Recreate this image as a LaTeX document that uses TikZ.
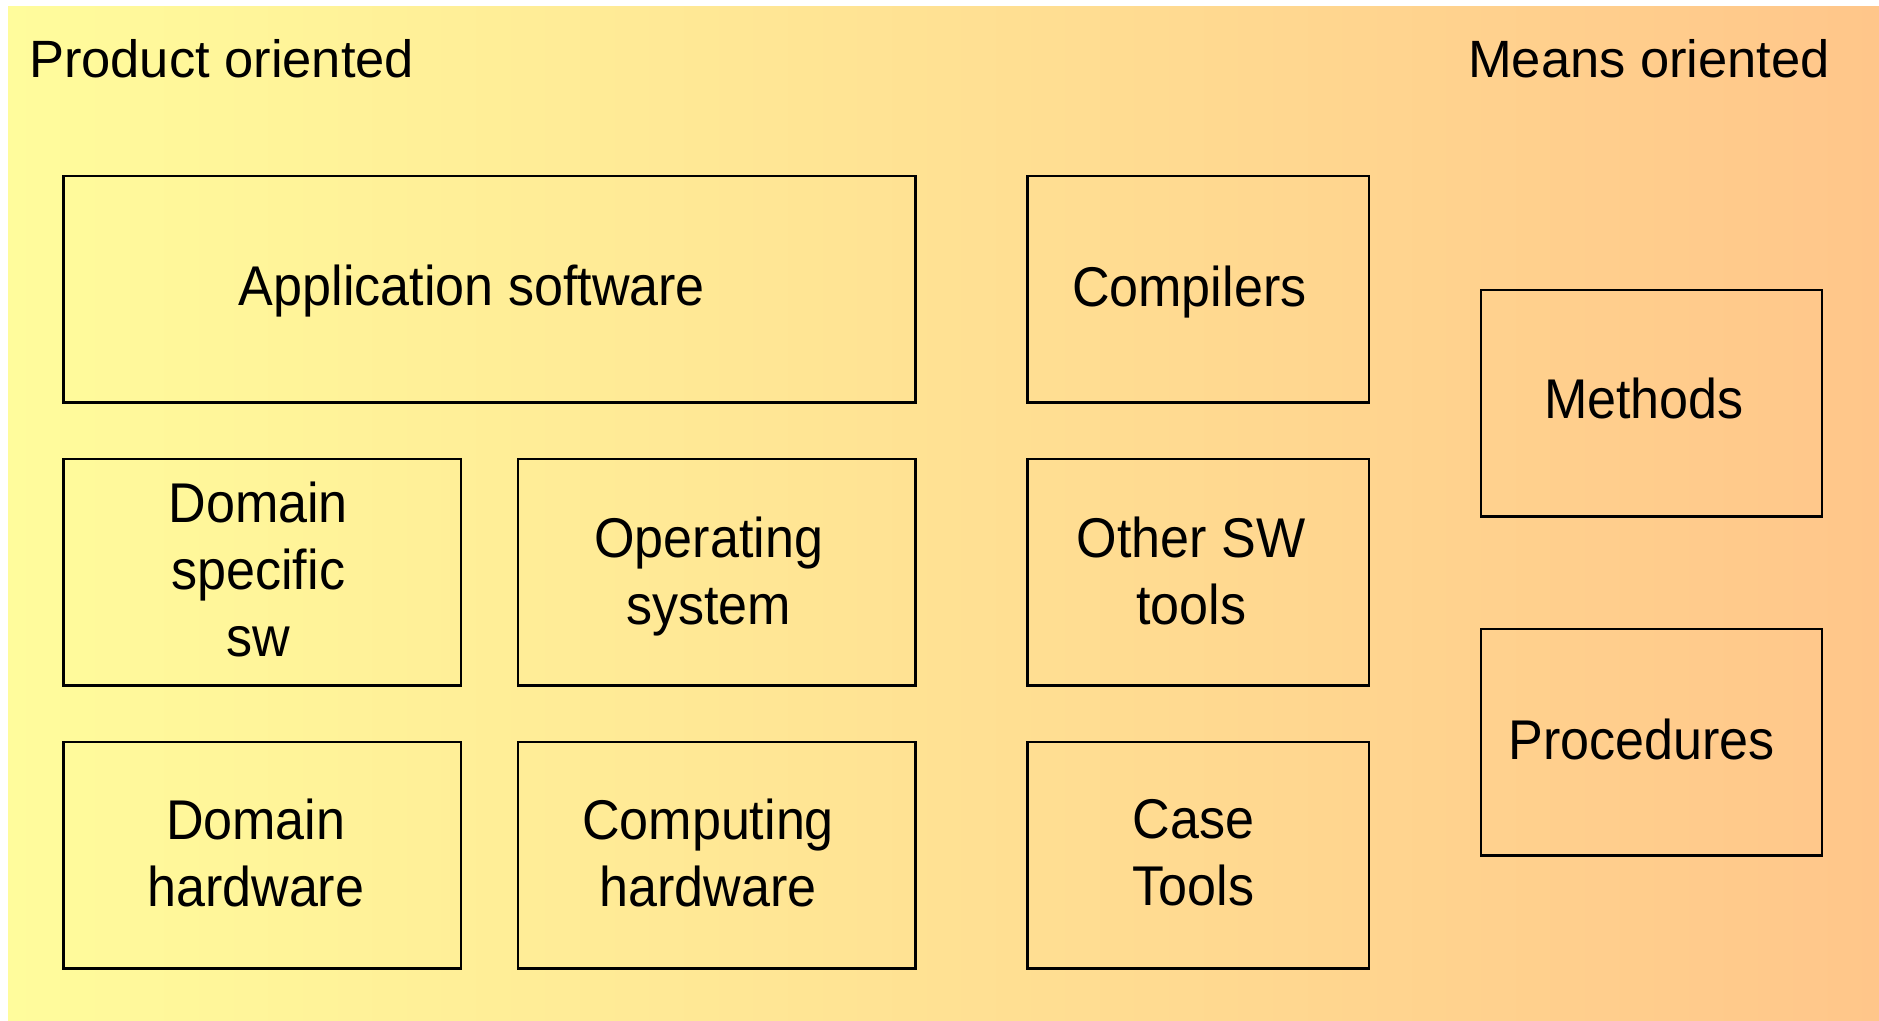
\documentclass[tikz,border=0pt]{standalone}
\usepackage{fontspec}
\setmainfont{Liberation Sans}
\newfontfamily\boxfont{Liberation Sans}[FakeStretch=0.93]
\definecolor{bgleft}{HTML}{FFFC9C}
\definecolor{bgright}{HTML}{FFC68A}
\begin{document}
\begin{tikzpicture}[x=1pt,y=-1pt,
  box/.style={draw=black, line width=2.6pt, rectangle, inner sep=0pt},
  txt/.style={inner sep=0pt, outer sep=0pt, align=center, font=\boxfont\fontsize{56}{67}\selectfont},
  ttl/.style={inner sep=0pt, outer sep=0pt, font=\fontsize{52.5}{60}\selectfont}]
\useasboundingbox (0,0) rectangle (1879,1020);
\fill[left color=bgleft, right color=bgright] (8,6) rectangle (1879,1020);
% titles
\node[ttl, anchor=base west] (tprod) at (29,77.3) {Product oriented};
\node[ttl, anchor=base east] (tmeans) at (1830,77.3) {Means oriented};
% boxes
\node[box, minimum width=852, minimum height=226.7] (app) at (489.5,289.35) {};
\node[box, minimum width=397.5, minimum height=226.5] (dss) at (262.25,572.25) {};
\node[box, minimum width=397.5, minimum height=226.5] (os) at (716.75,572.25) {};
\node[box, minimum width=397.5, minimum height=226.5] (dhw) at (262.25,855.25) {};
\node[box, minimum width=397.5, minimum height=226.5] (chw) at (716.75,855.25) {};
\node[box, minimum width=341.5, minimum height=226.7] (comp) at (1198.25,289.35) {};
\node[box, minimum width=341.5, minimum height=226.5] (osw) at (1198.25,572.25) {};
\node[box, minimum width=341.5, minimum height=226.5] (case) at (1198.25,855.25) {};
\node[box, minimum width=341, minimum height=226.7] (meth) at (1651.5,403.35) {};
\node[box, minimum width=341, minimum height=226.6] (proc) at (1651.5,742.3) {};
% texts
\node[txt] (tapp) at ([shift={(-17.5,2)}]app.center) {Application software};
\node[txt] (tdss) at ([shift={(-4,-2.75)}]dss.center) {Domain\\specific\\sw};
\node[txt] (tos) at ([shift={(-8,4.2)}]os.center) {Operating\\system};
\node[txt] (tdhw) at ([shift={(-6.5,-2)}]dhw.center) {Domain\\hardware};
\node[txt] (tchw) at ([shift={(-8.7,-2.5)}]chw.center) {Computing\\hardware};
\node[txt] (tcomp) at ([shift={(-9,2.5)}]comp.center) {Compilers};
\node[txt] (tosw) at ([shift={(-7,-1.75)}]osw.center) {Other SW\\tools};
\node[txt] (tcase) at ([shift={(-5,-2.5)}]case.center) {Case\\Tools};
\node[txt] (tmeth) at ([shift={(-7.5,-4.5)}]meth.center) {Methods};
\node[txt] (tproc) at ([shift={(-10,-2.8)}]proc.center) {Procedures};
\end{tikzpicture}
\end{document}
